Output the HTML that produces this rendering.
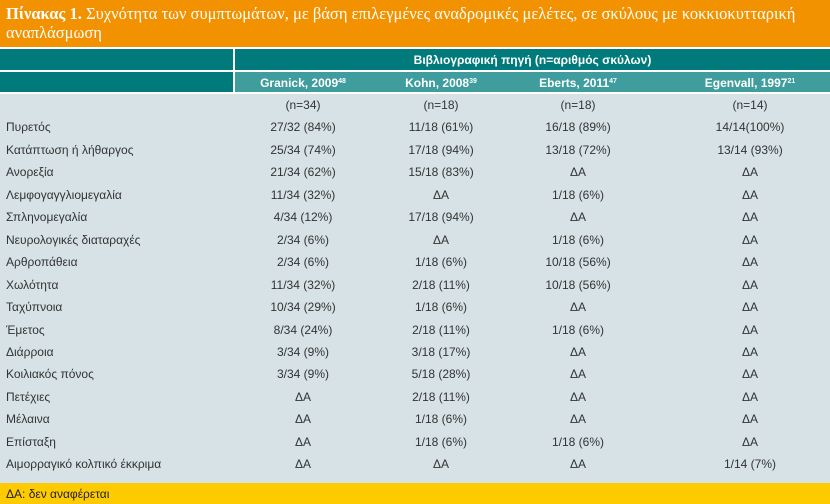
<!DOCTYPE html>
<html><head><meta charset="utf-8"><style>
*{margin:0;padding:0;box-sizing:border-box}
body{width:830px;height:504px;overflow:hidden;background:#fff;font-family:"Liberation Sans","DejaVu Sans",sans-serif;position:relative}
.abs{position:absolute}
#title{left:0;top:0;width:830px;height:47px;background:#f39200;color:#fff;font-family:"Liberation Serif",serif;font-size:16.5px;line-height:19px;padding:4px 6px}
#h1{left:0;top:49px;width:830px;height:21px;background:#007a7a}
#h2{left:235px;top:72px;width:595px;height:20px;background:#3f9d9d}
#h2b{left:0;top:72px;width:233px;height:20px;background:#007a7a}
#vline{left:233px;top:49px;width:2px;height:45px;background:#fff}
#body{left:0;top:94px;width:830px;height:389px;background:#d6e2e5}
#foot{left:0;top:483px;width:830px;height:21px;background:#fecb00;font-size:12px;color:#222;padding:4px 6px}
.hd{color:#fff;font-weight:bold;font-size:12px;text-align:center}
.c{font-size:12px;color:#333;text-align:center;width:140px;margin-left:-70px}
.l{font-size:12px;color:#333;left:6px}
sup{font-size:7px;vertical-align:4px}
</style></head><body>
<div id="title" class="abs"><b>Πίνακας 1.</b> Συχνότητα των συμπτωμάτων, με βάση επιλεγμένες αναδρομικές μελέτες, σε σκύλους με κοκκιοκυτταρική αναπλάσμωση</div>
<div id="h1" class="abs"></div>
<div id="h2b" class="abs"></div>
<div id="h2" class="abs"></div>
<div id="vline" class="abs"></div>
<div class="abs hd" style="left:235px;width:595px;top:53px">Βιβλιογραφική πηγή (n=αριθμός σκύλων)</div>
<div class="abs hd" style="left:233px;width:140px;top:76px">Granick, 2009<sup>48</sup></div>
<div class="abs hd" style="left:371px;width:140px;top:76px">Kohn, 2008<sup>39</sup></div>
<div class="abs hd" style="left:508px;width:140px;top:76px">Eberts, 2011<sup>47</sup></div>
<div class="abs hd" style="left:680px;width:140px;top:76px">Egenvall, 1997<sup>21</sup></div>
<div id="body" class="abs"></div>
<div id="rows"></div>
<div id="foot" class="abs">ΔΑ: δεν αναφέρεται</div>
<script>
const labels=["","Πυρετός","Κατάπτωση ή λήθαργος","Ανορεξία","Λεμφογαγγλιομεγαλία","Σπληνομεγαλία","Νευρολογικές διαταραχές","Αρθροπάθεια","Χωλότητα","Ταχύπνοια","Έμετος","Διάρροια","Κοιλιακός πόνος","Πετέχιες","Μέλαινα","Επίσταξη","Αιμορραγικό κολπικό έκκριμα"];
const granick=["(n=34)","27/32 (84%)","25/34 (74%)","21/34 (62%)","11/34 (32%)","4/34 (12%)","2/34 (6%)","2/34 (6%)","11/34 (32%)","10/34 (29%)","8/34 (24%)","3/34 (9%)","3/34 (9%)","ΔΑ","ΔΑ","ΔΑ","ΔΑ"];
const kohn=["(n=18)","11/18 (61%)","17/18 (94%)","15/18 (83%)","ΔΑ","17/18 (94%)","ΔΑ","1/18 (6%)","2/18 (11%)","1/18 (6%)","2/18 (11%)","3/18 (17%)","5/18 (28%)","2/18 (11%)","1/18 (6%)","1/18 (6%)","ΔΑ"];
const eberts=["(n=18)","16/18 (89%)","13/18 (72%)","ΔΑ","1/18 (6%)","ΔΑ","1/18 (6%)","10/18 (56%)","10/18 (56%)","ΔΑ","1/18 (6%)","ΔΑ","ΔΑ","ΔΑ","ΔΑ","1/18 (6%)","ΔΑ"];
const egenvall=["(n=14)","14/14(100%)","13/14 (93%)","ΔΑ","ΔΑ","ΔΑ","ΔΑ","ΔΑ","ΔΑ","ΔΑ","ΔΑ","ΔΑ","ΔΑ","ΔΑ","ΔΑ","ΔΑ","1/14 (7%)"];
const cols=[[granick,303],[kohn,441],[eberts,578],[egenvall,750]];
const root=document.getElementById('rows');
labels.forEach((lab,i)=>{
  const y=98+i*22.45;
  const d=document.createElement('div');
  d.className='abs l';d.style.top=y+'px';d.textContent=lab;
  
  
  root.appendChild(d);
  cols.forEach(([arr,x])=>{
    const c=document.createElement('div');
    c.className='abs c';c.style.top=y+'px';c.style.left=x+'px';c.textContent=arr[i];
    
    
    root.appendChild(c);
  });
});
</script>
</body></html>
